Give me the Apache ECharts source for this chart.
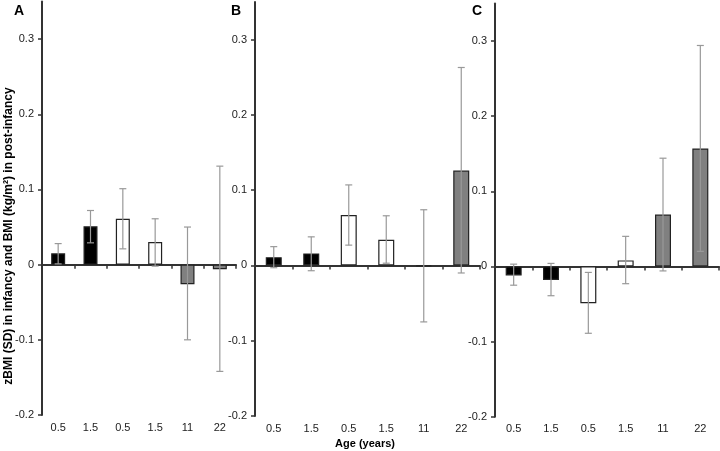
<!DOCTYPE html>
<html><head><meta charset="utf-8">
<script src="https://cdn.jsdelivr.net/npm/echarts@6/dist/echarts.min.js"></script>
<style>html,body{margin:0;padding:0;background:#fff}#c{width:720px;height:451px}</style>
</head><body><div id="c"></div>
<script>
const categories = ['0.5', '1.5', '0.5', '1.5', '11', '22'];
const barColors = ['#000000', '#000000', '#ffffff', '#ffffff', '#808080', '#808080'];
const yTicks = [-0.2, -0.1, 0, 0.1, 0.2, 0.3];
const panelLabels = ['A', 'B', 'C'];
const yTitle = 'zBMI (SD) in infancy and BMI (kg/m\u00B2) in post-infancy';
const xTitle = 'Age (years)';

const valuesA = [0.015, 0.051, 0.061, 0.030, -0.026, -0.006];
const lowA    = [0.001, 0.029, 0.021, -0.002, -0.100, -0.142];
const highA   = [0.028, 0.072, 0.101, 0.061, 0.050, 0.131];

const valuesB = [0.011, 0.016, 0.067, 0.034, -0.001, 0.126];
const lowB    = [-0.003, -0.007, 0.027, 0.003, -0.075, -0.010];
const highB   = [0.025, 0.038, 0.107, 0.066, 0.074, 0.263];

const valuesC = [-0.012, -0.018, -0.049, 0.008, 0.069, 0.157];
const lowC    = [-0.025, -0.039, -0.089, -0.023, -0.006, 0.020];
const highC   = [0.003, 0.004, -0.008, 0.040, 0.144, 0.294];

const panels = [
  {values: valuesA, low: lowA, high: highA},
  {values: valuesB, low: lowB, high: highB},
  {values: valuesC, low: lowC, high: highC}
];

const FONT = '"Liberation Sans", Arial, sans-serif';
const AXC = '#333';
const gridBoxes = [
  {left: 42, top: 1.5, width: 194, height: 413.5, barW: 14},
  {left: 255, top: 2, width: 225, height: 414, barW: 16},
  {left: 495, top: 3.4, width: 224, height: 413.3, barW: 16}
];

const grid = [], xAxis = [], yAxis = [], series = [];
gridBoxes.forEach((g, i) => {
  grid.push({left: g.left, top: g.top, width: g.width, height: g.height, containLabel: false, outerBoundsMode: 'none'});
  xAxis.push({
    type: 'category', gridIndex: i, data: categories, boundaryGap: true,
    axisLine: {show: true, onZero: true, lineStyle: {color: AXC, width: 2}},
    axisTick: {show: true, length: 4, lineStyle: {color: AXC, width: 1.5}},
    axisLabel: {show: false}, splitLine: {show: false}
  });
  xAxis.push({
    type: 'category', gridIndex: i, data: categories, position: 'bottom', boundaryGap: true,
    axisLine: {show: false, onZero: false}, axisTick: {show: false},
    axisLabel: {show: true, margin: 7, fontSize: 11, color: '#222', fontFamily: FONT},
    splitLine: {show: false}
  });
  yAxis.push({
    type: 'value', gridIndex: i, min: -0.2, max: 0.35,
    axisLine: {show: true, onZero: false, lineStyle: {color: AXC, width: 2}},
    axisTick: {show: true, length: 4, lineStyle: {color: AXC, width: 1.5}, customValues: yTicks},
    axisLabel: {show: true, margin: 8, fontSize: 11, color: '#222', fontFamily: FONT, customValues: yTicks},
    splitLine: {show: false}
  });
  const p = panels[i];
  series.push({
    type: 'bar', xAxisIndex: i * 2, yAxisIndex: i, barWidth: g.barW, z: 2,
    data: p.values.map((v, k) => ({value: v, itemStyle: {color: barColors[k], borderColor: '#222', borderWidth: 1.2}})),
    emphasis: {disabled: true}
  });
  series.push({
    type: 'custom', xAxisIndex: i * 2, yAxisIndex: i, z: 5,
    encode: {x: 0, y: [1, 2]},
    data: p.low.map((l, k) => [k, l, p.high[k]]),
    renderItem: (params, api) => {
      const x = api.value(0);
      const lo = api.coord([x, api.value(1)]);
      const hi = api.coord([x, api.value(2)]);
      const hw = 3.5;
      const style = {stroke: '#999', lineWidth: 1.2};
      return {type: 'group', children: [
        {type: 'line', shape: {x1: lo[0], y1: lo[1], x2: hi[0], y2: hi[1]}, style: style},
        {type: 'line', shape: {x1: lo[0] - hw, y1: lo[1], x2: lo[0] + hw, y2: lo[1]}, style: style},
        {type: 'line', shape: {x1: hi[0] - hw, y1: hi[1], x2: hi[0] + hw, y2: hi[1]}, style: style}
      ]};
    }
  });
});

const letterPos = [[14, 4], [231, 4], [472, 4]];
const graphic = panelLabels.map((t, i) => ({
  type: 'text', left: letterPos[i][0], top: letterPos[i][1],
  style: {text: t, font: 'bold 14px ' + FONT, fill: '#000'}
}));
graphic.push({
  type: 'text', x: 9, y: 236, rotation: Math.PI / 2,
  style: {text: yTitle, font: 'bold 12px ' + FONT, fill: '#000', textAlign: 'center', textVerticalAlign: 'middle'}
});
graphic.push({
  type: 'text', x: 365, y: 444,
  style: {text: xTitle, font: 'bold 11px ' + FONT, fill: '#000', textAlign: 'center', textVerticalAlign: 'middle'}
});

const chart = echarts.init(document.getElementById('c'), null, {renderer: 'canvas'});
chart.setOption({animation: false, backgroundColor: '#fff', grid, xAxis, yAxis, series, graphic});
</script></body></html>
